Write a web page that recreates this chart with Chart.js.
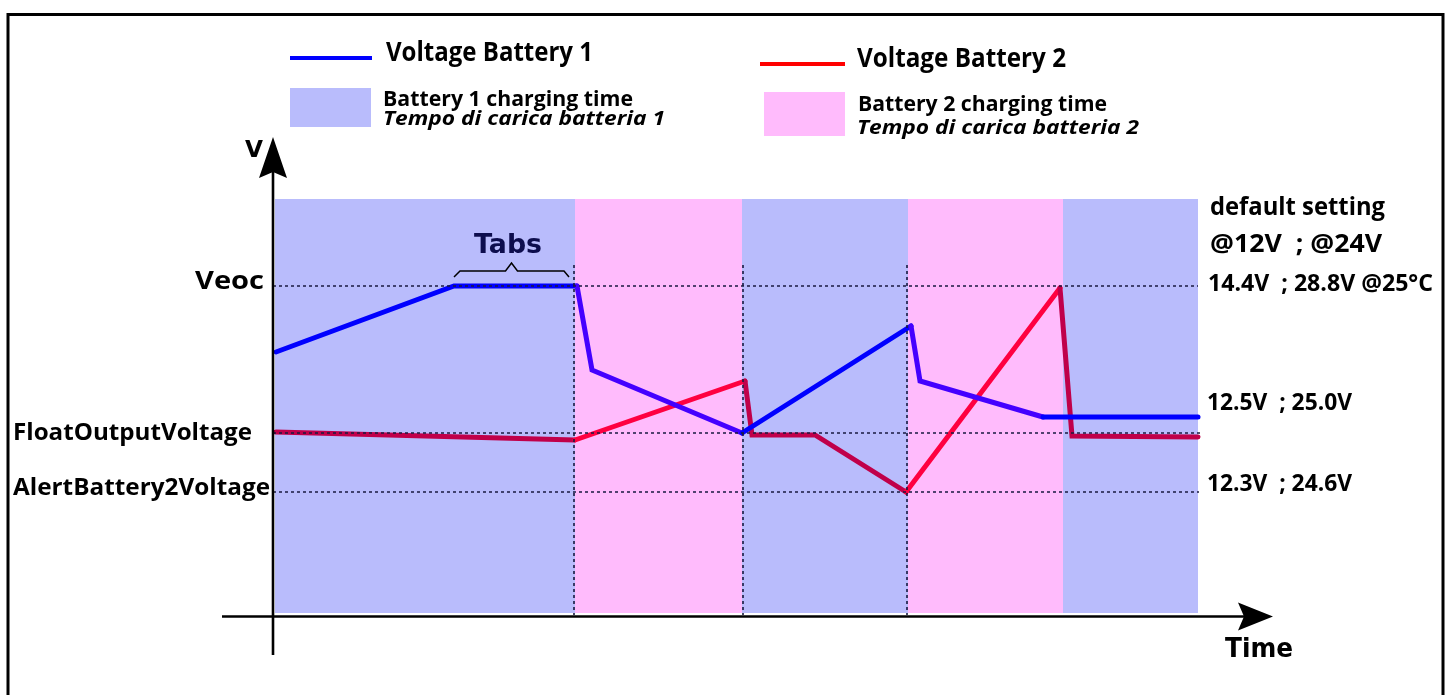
<!DOCTYPE html>
<html>
<head>
<meta charset="utf-8">
<script src="https://cdn.jsdelivr.net/npm/chart.js@4.4.1/dist/chart.umd.min.js"></script>
<style>
  html, body { margin: 0; padding: 0; background: #ffffff; }
  #wrap { width: 1451px; height: 695px; }
</style>
</head>
<body>
<div id="wrap"><canvas id="c" width="1451" height="695"></canvas></div>
<script>
// ---- Data (time units, voltage-level units of the schematic) ----
const timeBattery1 = [0.3, 18.1, 30.4, 31.9, 46.9, 63.8, 64.7, 77.0, 92.5];
const voltBattery1 = [26.3, 32.9, 32.9, 24.5, 18.2, 28.9, 23.4, 19.8, 19.8];
const timeBattery2 = [0.3, 30.2, 47.2, 47.9, 54.2, 63.3, 78.7, 79.9, 92.5];
const voltBattery2 = [18.3, 17.5, 23.4, 18.0, 18.0, 12.3, 32.7, 17.9, 17.8];

const chargeStart   = [0.2, 30.2, 46.9, 63.5, 79.0];
const chargeEnd     = [30.2, 46.9, 63.5, 79.0, 92.5];
const chargeBattery = [1, 2, 1, 2, 1];
const chargeTop = 41.6;

const levelNames    = ['Veoc', 'FloatOutputVoltage', 'AlertBattery2Voltage'];
const levelValues   = [32.9, 18.2, 12.3];
const levelEnds     = [92.5, 93.0, 92.6];
const levelSettings = ['14.4V  ; 28.8V @25°C', '12.5V  ; 25.0V', '12.3V  ; 24.6V'];
const switchTimes   = [30.1, 47.0, 63.4];
const switchTop     = 35.0;
const tabsRange     = [18.1, 29.6];

const seriesLabels = ['Voltage Battery 1', 'Voltage Battery 2'];
const bandLabels   = ['Battery 1 charging time', 'Battery 2 charging time'];
const bandLabelsIt = ['Tempo di carica batteria 1', 'Tempo di carica batteria 2'];

// ---- Styles ----
const BAND_BLUE = '#b9bcfc';
const BAND_PINK = '#ffbbfc';
const B1_ON_BLUE = '#0000ff', B1_ON_PINK = '#4400ff';
const B2_ON_BLUE = '#c0004a', B2_ON_PINK = '#ff0040';
const DOT = '#1a1a40';
const FONT = '"Open Sans", "DejaVu Sans", sans-serif';
const FONT2 = '"DejaVu Sans", sans-serif';

function bandAt(x) {
  for (let i = 0; i < chargeStart.length; i++) {
    if (x >= chargeStart[i] && x <= chargeEnd[i]) return chargeBattery[i];
  }
  return 1;
}
function segColor(onBlue, onPink) {
  return ctx => {
    const mid = (ctx.p0.parsed.x + ctx.p1.parsed.x) / 2;
    return bandAt(mid) === 2 ? onPink : onBlue;
  };
}

function fitText(ctx, text, x, y, width, font) {
  ctx.font = font;
  const w = ctx.measureText(text).width;
  ctx.save();
  ctx.translate(x, y);
  ctx.scale(width / w, 1);
  ctx.textAlign = 'left';
  ctx.textBaseline = 'alphabetic';
  ctx.fillText(text, 0, 0);
  ctx.restore();
}

const decor = {
  id: 'decor',
  beforeDraw(chart) {
    const c = chart.ctx;
    c.save();
    c.fillStyle = '#ffffff';
    c.fillRect(0, 0, chart.width, chart.height);
    c.restore();
  },
  beforeDatasetsDraw(chart) {
    const c = chart.ctx, xs = chart.scales.x, ys = chart.scales.y;
    c.save();
    for (let i = 0; i < chargeStart.length; i++) {
      const x0 = Math.round(xs.getPixelForValue(chargeStart[i]));
      const x1 = Math.round(xs.getPixelForValue(chargeEnd[i]));
      const y0 = ys.getPixelForValue(chargeTop);
      const y1 = ys.getPixelForValue(0.2);
      c.fillStyle = chargeBattery[i] === 1 ? BAND_BLUE : BAND_PINK;
      c.fillRect(x0, y0, x1 - x0, y1 - y0);
    }
    c.restore();
  },
  afterDatasetsDraw(chart) {
    const c = chart.ctx, xs = chart.scales.x, ys = chart.scales.y;
    const X = v => xs.getPixelForValue(v), Y = v => ys.getPixelForValue(v);
    c.save();
    // dotted reference levels
    c.strokeStyle = DOT;
    c.lineWidth = 1.6;
    c.setLineDash([3, 3]);
    levelValues.forEach((lv, i) => {
      c.beginPath();
      c.moveTo(X(0), Y(lv));
      c.lineTo(X(levelEnds[i]), Y(lv));
      c.stroke();
    });
    switchTimes.forEach(t => {
      c.beginPath();
      c.moveTo(X(t), Y(switchTop));
      c.lineTo(X(t), Y(0));
      c.stroke();
    });
    c.setLineDash([]);

    // axes
    c.strokeStyle = '#000';
    c.fillStyle = '#000';
    c.lineWidth = 2.6;
    const ax = X(0), ay = Y(0) + 1.5;
    c.beginPath(); c.moveTo(ax, 655); c.lineTo(ax, Y(47.8) + 30); c.stroke();
    c.beginPath(); c.moveTo(222, ay); c.lineTo(X(100) - 25, ay); c.stroke();
    // y arrow
    const ty = Y(47.8);
    c.beginPath();
    c.moveTo(ax, ty); c.lineTo(ax + 14, ty + 41); c.lineTo(ax, ty + 35); c.lineTo(ax - 14, ty + 41);
    c.closePath(); c.fill();
    // x arrow
    const tx = X(100);
    c.beginPath();
    c.moveTo(tx, ay); c.lineTo(tx - 35, ay - 14); c.lineTo(tx - 29, ay); c.lineTo(tx - 35, ay + 14);
    c.closePath(); c.fill();

    // Tabs bracket
    const bx0 = X(tabsRange[0]), bx1 = X(tabsRange[1]);
    const bm = (bx0 + bx1) / 2;
    c.lineWidth = 1.5;
    c.beginPath();
    c.moveTo(bx0, 277); c.lineTo(bx0 + 6, 271); c.lineTo(bm - 6, 271); c.lineTo(bm, 263);
    c.lineTo(bm + 6, 271); c.lineTo(bx1 - 5, 271); c.lineTo(bx1, 277);
    c.stroke();

    // texts
    c.fillStyle = '#0d0d4d';
    fitText(c, 'Tabs', 474, 253, 68, 'bold 27px ' + FONT2);
    c.fillStyle = '#000';
    fitText(c, 'V', 245, 157, 18, 'bold 23px ' + FONT2);
    fitText(c, 'Time', 1225, 657, 68, 'bold 26px ' + FONT2);

    fitText(c, levelNames[0], 195, 289, 69, 'bold 25px ' + FONT);
    fitText(c, levelNames[1], 13, 440, 239, 'bold 24px ' + FONT);
    fitText(c, levelNames[2], 13, 495, 257, 'bold 24px ' + FONT);

    fitText(c, 'default setting', 1210, 215, 175, 'bold 25px ' + FONT);
    fitText(c, '@12V  ; @24V', 1210, 252, 172, 'bold 25px ' + FONT);
    fitText(c, levelSettings[0], 1208, 291, 225, 'bold 24px ' + FONT);
    fitText(c, levelSettings[1], 1207, 410, 145, 'bold 24px ' + FONT);
    fitText(c, levelSettings[2], 1207, 491, 145, 'bold 24px ' + FONT);

    // legend
    c.lineWidth = 4;
    c.strokeStyle = '#0000ff';
    c.beginPath(); c.moveTo(290, 58); c.lineTo(372, 58); c.stroke();
    c.strokeStyle = '#ff0000';
    c.beginPath(); c.moveTo(760, 64); c.lineTo(845, 64); c.stroke();
    c.fillStyle = BAND_BLUE; c.fillRect(290, 88, 81, 39);
    c.fillStyle = BAND_PINK; c.fillRect(764, 92, 81, 44);
    c.fillStyle = '#000';
    fitText(c, seriesLabels[0], 386, 61, 207, 'bold 26px ' + FONT);
    fitText(c, seriesLabels[1], 857, 67, 209, 'bold 26px ' + FONT);
    fitText(c, bandLabels[0], 383, 106, 250, 'bold 21px ' + FONT);
    fitText(c, bandLabels[1], 858, 111, 249, 'bold 21px ' + FONT);
    fitText(c, bandLabelsIt[0], 383, 125, 282, 'italic bold 20px ' + FONT);
    fitText(c, bandLabelsIt[1], 857, 134, 282, 'italic bold 20px ' + FONT);

    // frame
    c.strokeStyle = '#000';
    c.lineWidth = 3;
    c.strokeRect(8, 14.5, 1435, 720);
    c.restore();
  }
};

const ctxEl = document.getElementById('c').getContext('2d');
new Chart(ctxEl, {
  type: 'line',
  data: {
    datasets: [
      {
        label: seriesLabels[0],
        data: timeBattery1.map((t, i) => ({ x: t, y: voltBattery1[i] })),
        borderColor: B1_ON_BLUE,
        segment: { borderColor: segColor(B1_ON_BLUE, B1_ON_PINK) },
        borderWidth: 5,
        pointRadius: 0,
        tension: 0,
        borderCapStyle: 'round',
        borderJoinStyle: 'miter',
        fill: false
      },
      {
        label: seriesLabels[1],
        data: timeBattery2.map((t, i) => ({ x: t, y: voltBattery2[i] })),
        borderColor: B2_ON_BLUE,
        segment: { borderColor: segColor(B2_ON_BLUE, B2_ON_PINK) },
        borderWidth: 5,
        pointRadius: 0,
        tension: 0,
        borderCapStyle: 'round',
        borderJoinStyle: 'miter',
        fill: false
      }
    ]
  },
  options: {
    responsive: false,
    animation: false,
    devicePixelRatio: 1,
    layout: { padding: { left: 273, right: 178, top: 137, bottom: 80 } },
    scales: {
      x: { type: 'linear', min: 0, max: 100, display: false },
      y: { type: 'linear', min: 0, max: 47.8, display: false }
    },
    plugins: {
      legend: { display: false },
      tooltip: { enabled: false },
      title: { display: false }
    },
    events: []
  },
  plugins: [decor]
});
</script>
</body>
</html>
